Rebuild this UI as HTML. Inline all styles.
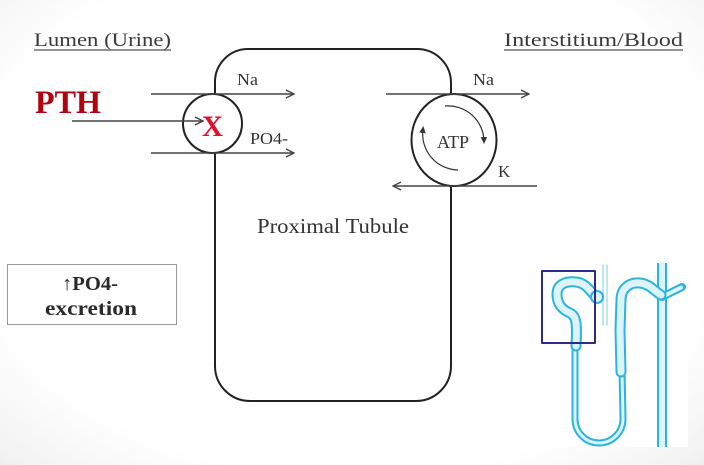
<!DOCTYPE html>
<html>
<head>
<meta charset="utf-8">
<style>
  html,body{margin:0;padding:0;}
  body{width:704px;height:465px;overflow:hidden;
    background:radial-gradient(ellipse 75% 80% at 50% 45%, #ffffff 72%, #f3f3f3 92%, #ebebeb 100%);}
  svg{display:block;position:absolute;left:0;top:0;}
  text{font-family:"Liberation Serif", serif;}
</style>
</head>
<body>
<svg width="704" height="465" viewBox="0 0 704 465" xmlns="http://www.w3.org/2000/svg">
  <defs>
    <marker id="open" markerWidth="10" markerHeight="10" refX="9" refY="5" orient="auto" markerUnits="userSpaceOnUse">
      <path d="M1,1 L9,5 L1,9" fill="none" stroke="#444" stroke-width="1.4"/>
    </marker>
    <marker id="tri" markerWidth="8" markerHeight="8" refX="4" refY="4" orient="auto" markerUnits="userSpaceOnUse">
      <path d="M0,0.8 L7,4 L0,7.2 Z" fill="#333"/>
    </marker>
  </defs>

  <!-- nephron image white background -->
  <rect x="520" y="255" width="168" height="192" fill="#ffffff"/>

  <!-- headings -->
  <text x="34" y="46" font-size="19" fill="#3a3a3a" textLength="137" lengthAdjust="spacingAndGlyphs">Lumen (Urine)</text>
  <line x1="34" y1="50" x2="171" y2="50" stroke="#555" stroke-width="1.2"/>
  <text x="504" y="46" font-size="19" fill="#3a3a3a" textLength="179" lengthAdjust="spacingAndGlyphs">Interstitium/Blood</text>
  <line x1="504" y1="50" x2="683" y2="50" stroke="#555" stroke-width="1.2"/>

  <!-- PTH -->
  <text x="35" y="113" font-size="33" font-weight="bold" fill="#b3000f" textLength="66" lengthAdjust="spacingAndGlyphs">PTH</text>

  <!-- tubule outline -->
  <path d="M215,83 A33,33 0 0 1 248,49 L417,49 A34,34 0 0 1 451,83 L451,366 A35,35 0 0 1 416,401 L250,401 A35,35 0 0 1 215,366 Z"
        fill="none" stroke="#222" stroke-width="2"/>

  <!-- left transporter -->
  <circle cx="212.5" cy="123.5" r="29.5" fill="#fff" stroke="#222" stroke-width="2"/>
  <line x1="151" y1="94" x2="294" y2="94" stroke="#444" stroke-width="1.4" marker-end="url(#open)"/>
  <line x1="151" y1="153" x2="294" y2="153" stroke="#444" stroke-width="1.4" marker-end="url(#open)"/>
  <line x1="72" y1="121" x2="203" y2="121" stroke="#444" stroke-width="1.4" marker-end="url(#open)"/>
  <text x="202" y="136" font-size="30" font-weight="bold" fill="#e0102a" textLength="21" lengthAdjust="spacingAndGlyphs">X</text>
  <text x="237" y="85" font-size="17" fill="#333" textLength="21" lengthAdjust="spacingAndGlyphs">Na</text>
  <text x="250" y="144" font-size="17" fill="#333" textLength="38" lengthAdjust="spacingAndGlyphs">PO4-</text>

  <!-- right transporter -->
  <ellipse cx="454" cy="140" rx="42.5" ry="46" fill="#fff" stroke="#222" stroke-width="2"/>
  <line x1="386" y1="94" x2="529" y2="94" stroke="#444" stroke-width="1.4" marker-end="url(#open)"/>
  <line x1="537" y1="186" x2="393" y2="186" stroke="#444" stroke-width="1.4" marker-end="url(#open)"/>
  <text x="473" y="85" font-size="17" fill="#333" textLength="21" lengthAdjust="spacingAndGlyphs">Na</text>
  <text x="498" y="177" font-size="17" fill="#333">K</text>
  <text x="437" y="148" font-size="18" fill="#333" textLength="32" lengthAdjust="spacingAndGlyphs">ATP</text>
  <path d="M445,106 A36,36 0 0 1 484,141" fill="none" stroke="#333" stroke-width="1.2" marker-end="url(#tri)"/>
  <path d="M458,170 A36,36 0 0 1 423,129" fill="none" stroke="#333" stroke-width="1.2" marker-end="url(#tri)"/>

  <!-- Proximal Tubule -->
  <text x="257" y="233" font-size="21" fill="#333" textLength="152" lengthAdjust="spacingAndGlyphs">Proximal Tubule</text>

  <!-- PO4 excretion box -->
  <rect x="7.5" y="264.5" width="169" height="60" fill="#fff" stroke="#9a9a9a" stroke-width="1"/>
  <text x="62" y="290" font-size="20" font-weight="bold" fill="#2a2a2a" textLength="56" lengthAdjust="spacingAndGlyphs">↑PO4-</text>
  <text x="45" y="315" font-size="20" font-weight="bold" fill="#2a2a2a" textLength="92" lengthAdjust="spacingAndGlyphs">excretion</text>

  <!-- nephron -->
  <g fill="none" stroke-linecap="round" stroke-linejoin="round">
    <!-- arterioles -->
    <line x1="603" y1="265" x2="603" y2="325" stroke="#9ad8ea" stroke-width="1.3"/>
    <line x1="607" y1="265" x2="607" y2="325" stroke="#9ad8ea" stroke-width="1.3"/>
    <!-- collecting duct -->
    <path d="M662,263 L662,447" stroke="#2ab4df" stroke-width="10" stroke-linecap="butt"/>
    <path d="M662,263 L662,447" stroke="#dcf3fa" stroke-width="6" stroke-linecap="butt"/>
    <path d="M662,297 L682,287" stroke="#2ab4df" stroke-width="8"/>
    <path d="M662,297 L681,287.5" stroke="#dcf3fa" stroke-width="4"/>
    <!-- descending thin limb and loop -->
    <path d="M575,340 L575,419 A24,24 0 0 0 623,419 L622,370" stroke="#2ab4df" stroke-width="7"/>
    <path d="M575,340 L575,419 A24,24 0 0 0 623,419 L622,370" stroke="#dcf3fa" stroke-width="3"/>
    <!-- proximal convoluted -->
    <path d="M596,297 C590,291 586,283 576,282 C566,281 557,284 557,294 C557,305 563,310 570,313 C577,316 577,326 576,346" stroke="#2ab4df" stroke-width="11"/>
    <path d="M596,297 C590,291 586,283 576,282 C566,281 557,284 557,294 C557,305 563,310 570,313 C577,316 577,326 576,346" stroke="#dcf3fa" stroke-width="7"/>
    <!-- thick ascending + distal -->
    <path d="M621,372 L620,330 L621,300 C621,288 630,282 640,283 C650,284 654,291 661,295" stroke="#2ab4df" stroke-width="11"/>
    <path d="M621,372 L620,330 L621,300 C621,288 630,282 640,283 C650,284 654,291 661,295" stroke="#dcf3fa" stroke-width="7"/>
    <!-- glomerulus -->
    <circle cx="597" cy="297" r="6" fill="#dcf3fa" stroke="#2ab4df" stroke-width="2"/>
    <!-- highlight box -->
    <rect x="542" y="271" width="53" height="72" stroke="#2e2a85" stroke-width="2"/>
  </g>
</svg>
</body>
</html>
